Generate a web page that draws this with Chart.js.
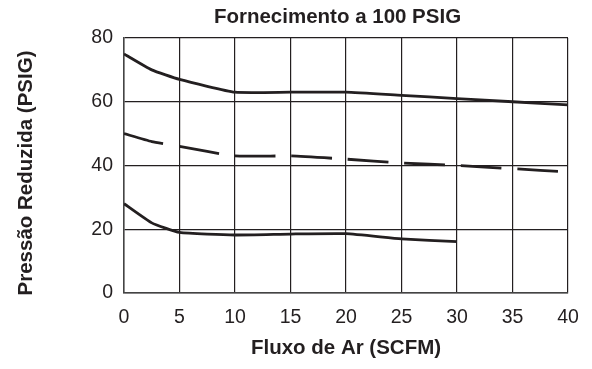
<!DOCTYPE html>
<html>
<head>
<meta charset="utf-8">
<script src="https://cdn.jsdelivr.net/npm/chart.js@4.4.1/dist/chart.umd.min.js"></script>
<style>
  html, body { margin: 0; padding: 0; background: #ffffff; }
  #wrap { width: 592px; height: 369px; }
</style>
</head>
<body>
<div id="wrap"><canvas id="c" width="592" height="369"></canvas></div>
<script>
// Flow (SCFM) sample points
const flowValues = [0, 2.5, 5, 10, 15, 20, 25, 30, 35, 40];
// Reduced pressure curves (PSIG)
const upperCurve = [75, 70, 67, 63, 63, 63, 62, 61, 60, 59];
const middleCurve = [50, 47.5, 46, 43, 43, 42, 40.8, 40, 39, 38];
const lowerCurve = [28, 22, 19, 18.2, 18.5, 18.6, 17, 16.1, null, null];
// Axis ticks
const xTicks = [0, 5, 10, 15, 20, 25, 30, 35, 40];
const yTicks = [0, 20, 40, 60, 80];

const titleText = 'Fornecimento a 100 PSIG';
const xTitle = 'Fluxo de Ar (SCFM)';
const yTitle = 'Pressão Reduzida (PSIG)';

function toPoints(ys) {
  const pts = [];
  flowValues.forEach((x, i) => { if (ys[i] !== null) pts.push({ x: x, y: ys[i] }); });
  return pts;
}

const ink = '#231f20';
const fontFamily = '"Liberation Sans", Arial, Helvetica, sans-serif';
const boldFont = 'bold 20.5px ' + fontFamily;

// Draws the chart title and the vertical axis title as canvas text
const titlesPlugin = {
  id: 'titles',
  afterDraw(chart) {
    const ctx = chart.ctx;
    ctx.save();
    ctx.fillStyle = ink;
    ctx.font = boldFont;
    ctx.textAlign = 'center';
    ctx.textBaseline = 'middle';
    ctx.fillText(titleText, 337.5, 17);
    ctx.translate(26, 173);
    ctx.rotate(-Math.PI / 2);
    ctx.fillText(yTitle, 0, 0);
    ctx.restore();
  }
};

new Chart(document.getElementById('c'), {
  type: 'scatter',
  data: {
    datasets: [
      { data: toPoints(upperCurve), showLine: true, borderColor: ink, borderWidth: 2.8, pointRadius: 0, tension: 0.15 },
      { data: toPoints(middleCurve), showLine: true, borderColor: ink, borderWidth: 2.8, pointRadius: 0, tension: 0.15, borderDash: [40.5, 16.1] },
      { data: toPoints(lowerCurve), showLine: true, borderColor: ink, borderWidth: 2.8, pointRadius: 0, tension: 0.15 }
    ]
  },
  options: {
    responsive: false,
    animation: false,
    layout: { padding: { left: 0, right: 24, top: 38, bottom: 0 } },
    plugins: {
      legend: { display: false },
      tooltip: { enabled: false },
      title: { display: false }
    },
    scales: {
      x: {
        type: 'linear',
        min: 0, max: 40,
        afterBuildTicks: (axis) => { axis.ticks = xTicks.map(v => ({ value: v })); },
        afterFit: (axis) => { axis.height = 76; },
        grid: { color: ink, lineWidth: 1.2, drawTicks: false },
        border: { color: '#444', width: 1.5 },
        ticks: { color: ink, font: { family: fontFamily, size: 19.5 }, padding: 13, maxRotation: 0 },
        title: { display: true, text: xTitle, color: ink, font: { family: fontFamily, size: 20.5, weight: 'bold' }, padding: { top: 2, bottom: 8 } }
      },
      y: {
        min: 0, max: 80,
        afterBuildTicks: (axis) => { axis.ticks = yTicks.map(v => ({ value: v })); },
        afterFit: (axis) => { axis.width = 124; },
        grid: { color: ink, lineWidth: 1.2, drawTicks: false },
        border: { color: '#444', width: 1.5 },
        ticks: { color: ink, font: { family: fontFamily, size: 19.5 }, padding: 11 },
        title: { display: false }
      }
    }
  },
  plugins: [titlesPlugin]
});
</script>
</body>
</html>
